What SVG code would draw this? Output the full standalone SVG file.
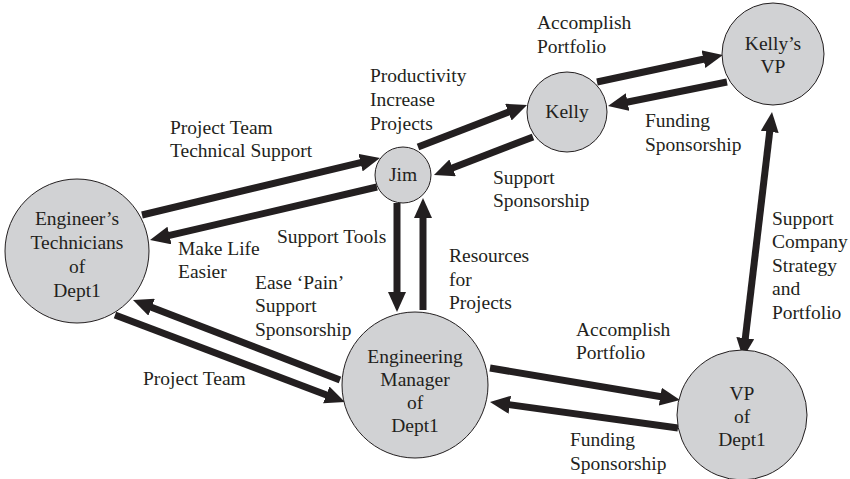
<svg xmlns="http://www.w3.org/2000/svg" width="850" height="479" viewBox="0 0 850 479">
<style>
  .node { fill: #d1d2d4; stroke: #231f20; stroke-width: 1; }
  text { font-family: "Liberation Serif", "Times New Roman", serif; font-size: 19.5px; fill: #231f20; }
  .c { text-anchor: middle; }
  .arrow { stroke: #231f20; stroke-width: 7; fill: none; marker-end: url(#head); }
  .both { marker-start: url(#head); }
</style>
<defs>
  <marker id="head" viewBox="0 0 20 18" markerWidth="20" markerHeight="18" refX="1" refY="9" markerUnits="userSpaceOnUse" orient="auto-start-reverse">
    <path d="M0,0 L20,9 L0,18 z" fill="#231f20"/>
  </marker>
</defs>
<rect width="850" height="479" fill="#ffffff"/>

<g id="connectors">
  <line class="arrow" x1="418" y1="147" x2="509.3" y2="111.8"/>
  <line class="arrow" x1="533" y1="137" x2="451.7" y2="168.2"/>
  <line class="arrow" x1="142" y1="215" x2="361.5" y2="162.4"/>
  <line class="arrow" x1="377" y1="187" x2="168.5" y2="235.7"/>
  <line class="arrow" x1="397" y1="203" x2="397" y2="293"/>
  <line class="arrow" x1="423" y1="310" x2="423" y2="217"/>
  <line class="arrow" x1="340" y1="380" x2="150.7" y2="306.9"/>
  <line class="arrow" x1="115" y1="315" x2="327.2" y2="395.3"/>
  <line class="arrow" x1="490" y1="368" x2="661.3" y2="396.8"/>
  <line class="arrow" x1="678" y1="428" x2="508.8" y2="404.6"/>
  <line class="arrow" x1="597" y1="82" x2="704.4" y2="59"/>
  <line class="arrow" x1="727" y1="82" x2="626.6" y2="102.2"/>
  <line class="arrow both" x1="769.8" y1="130.9" x2="745.2" y2="339.1"/>
</g>

<g id="labels">
  <text x="537" y="29">Accomplish</text>
  <text x="537" y="53">Portfolio</text>
  <text x="370" y="82">Productivity</text>
  <text x="370" y="106">Increase</text>
  <text x="370" y="130">Projects</text>
  <text x="170" y="134">Project Team</text>
  <text x="170" y="157">Technical Support</text>
  <text x="178" y="255">Make Life</text>
  <text x="178" y="278">Easier</text>
  <text x="277" y="243">Support Tools</text>
  <text x="255" y="289">Ease ‘Pain’</text>
  <text x="255" y="312">Support</text>
  <text x="255" y="336">Sponsorship</text>
  <text x="449" y="262">Resources</text>
  <text x="449" y="286">for</text>
  <text x="449" y="309">Projects</text>
  <text x="493" y="184">Support</text>
  <text x="493" y="207">Sponsorship</text>
  <text x="645" y="127">Funding</text>
  <text x="645" y="151">Sponsorship</text>
  <text x="772" y="225">Support</text>
  <text x="772" y="248">Company</text>
  <text x="772" y="272">Strategy</text>
  <text x="772" y="295">and</text>
  <text x="772" y="319">Portfolio</text>
  <text x="576" y="336">Accomplish</text>
  <text x="576" y="359">Portfolio</text>
  <text x="143" y="385">Project Team</text>
  <text x="570" y="446">Funding</text>
  <text x="570" y="470">Sponsorship</text>
</g>

<g id="engineers-technicians">
  <circle class="node" cx="77" cy="251" r="72"/>
  <text class="c" x="77" y="225">Engineer’s</text>
  <text class="c" x="77" y="249">Technicians</text>
  <text class="c" x="77" y="273">of</text>
  <text class="c" x="77" y="297">Dept1</text>
</g>
<g id="jim">
  <circle class="node" cx="403" cy="175" r="28"/>
  <text class="c" x="403" y="181">Jim</text>
</g>
<g id="kelly">
  <circle class="node" cx="567" cy="112" r="40"/>
  <text class="c" x="567" y="118">Kelly</text>
</g>
<g id="kellys-vp">
  <circle class="node" cx="773" cy="54" r="51"/>
  <text class="c" x="773" y="50">Kelly’s</text>
  <text class="c" x="773" y="73">VP</text>
</g>
<g id="engineering-manager">
  <circle class="node" cx="415" cy="385" r="73"/>
  <text class="c" x="415" y="363">Engineering</text>
  <text class="c" x="415" y="386">Manager</text>
  <text class="c" x="415" y="409">of</text>
  <text class="c" x="415" y="432">Dept1</text>
</g>
<g id="vp-dept1">
  <circle class="node" cx="742" cy="415" r="65"/>
  <text class="c" x="742" y="400">VP</text>
  <text class="c" x="742" y="423">of</text>
  <text class="c" x="742" y="446">Dept1</text>
</g>
</svg>
